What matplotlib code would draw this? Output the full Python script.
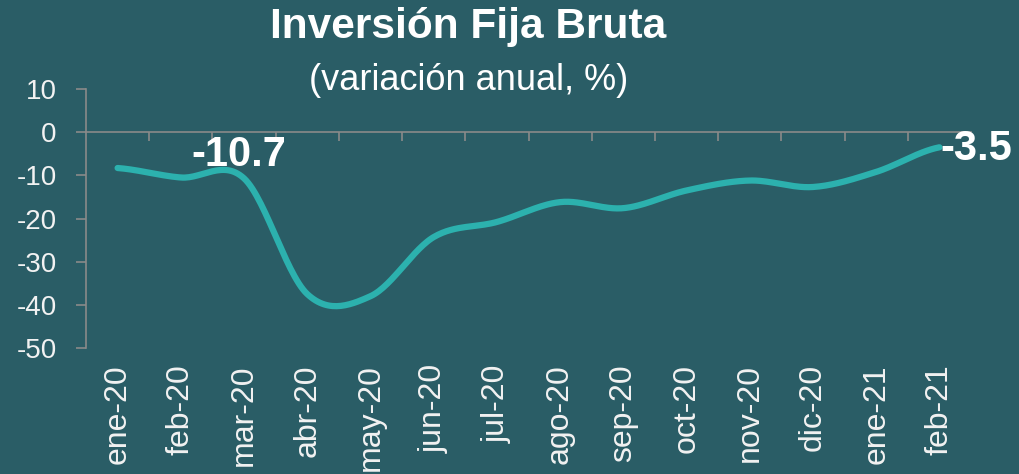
import numpy as np
import matplotlib
matplotlib.use("Agg")
import matplotlib.pyplot as plt

# data
months = ["ene-20", "feb-20", "mar-20", "abr-20", "may-20", "jun-20", "jul-20",
          "ago-20", "sep-20", "oct-20", "nov-20", "dic-20", "ene-21", "feb-21"]
values = [-8.3, -10.5, -10.7, -37.5, -38.0, -24.3, -20.8,
          -16.2, -17.6, -13.5, -11.2, -12.7, -9.2, -3.5]
yticks = [10, 0, -10, -20, -30, -40, -50]

bg = "#2A5D66"
line_col = "#2CB1AE"
axis_col = "#8A8A8A"

plt.rcParams["font.family"] = ["Liberation Sans", "DejaVu Sans"]


def smooth(x, y, n=30):
    # catmull-rom style smoothing, like a spreadsheet "smoothed line"
    x = np.asarray(x, float)
    y = np.asarray(y, float)
    m = np.zeros_like(y)
    m[1:-1] = (y[2:] - y[:-2]) / 2
    m[0] = (y[1] - y[0]) / 2
    m[-1] = (y[-1] - y[-2]) / 2
    xs, ys = [], []
    for i in range(len(y) - 1):
        t = np.linspace(0, 1, n, endpoint=False)
        h00 = 2 * t**3 - 3 * t**2 + 1
        h10 = t**3 - 2 * t**2 + t
        h01 = -2 * t**3 + 3 * t**2
        h11 = t**3 - t**2
        xs.append(x[i] + t * (x[i + 1] - x[i]))
        ys.append(h00 * y[i] + h10 * m[i] + h01 * y[i + 1] + h11 * m[i + 1])
    xs.append([x[-1]])
    ys.append([y[-1]])
    return np.concatenate(xs), np.concatenate(ys)


x = np.arange(len(months))
sx, sy = smooth(x, values)

fig = plt.figure(figsize=(10.2, 4.74), dpi=100, facecolor=bg)
ax = fig.add_axes([0.0843, 0.2658, 0.8677, 0.5464], facecolor=bg)

ax.plot(sx, sy, color=line_col, lw=4.5, solid_capstyle="round")

ax.set_xlim(-0.5, len(months) - 0.5)
ax.set_ylim(-50, 10)

# spines
for s in ["top", "right"]:
    ax.spines[s].set_visible(False)
ax.spines["left"].set_color(axis_col)
ax.spines["bottom"].set_color(axis_col)
ax.spines["left"].set_linewidth(1.2)
ax.spines["bottom"].set_linewidth(1.2)
ax.spines["bottom"].set_position(("data", 0))

ax.set_yticks(yticks)
ax.set_yticklabels([str(v) for v in yticks])
ax.tick_params(axis="y", direction="out", length=7, width=1.2, color=axis_col,
               labelcolor="#F2F2F2", labelsize=20, pad=14)

ax.set_xticks(x)
ax.set_xticklabels(months, rotation=90)
ax.set_xticks(x[:-1] + 0.5, minor=True)
ax.tick_params(axis="x", which="major", length=0, pad=167,
               labelcolor="#F2F2F2", labelsize=23)
ax.tick_params(axis="x", which="minor", direction="out", length=6.5,
               width=1.2, color=axis_col)

# data labels
ax.annotate("-10.7", xy=(2, values[2]), xytext=(-4, 17), textcoords="offset points",
            ha="center", va="center", color="white", fontsize=30, fontweight="bold")
ax.annotate("-3.5", xy=(13, values[13]), xytext=(1, -1), textcoords="offset points",
            ha="left", va="center", color="white", fontsize=30, fontweight="bold")

# titles
fig.text(0.459, 0.92, "Inversión Fija Bruta", ha="center", va="baseline",
         color="white", fontsize=30.5, fontweight="bold")
fig.text(0.459, 0.81, "(variación anual, %)", ha="center", va="baseline",
         color="white", fontsize=26)

fig.savefig("out.png", dpi=100, facecolor=bg)
